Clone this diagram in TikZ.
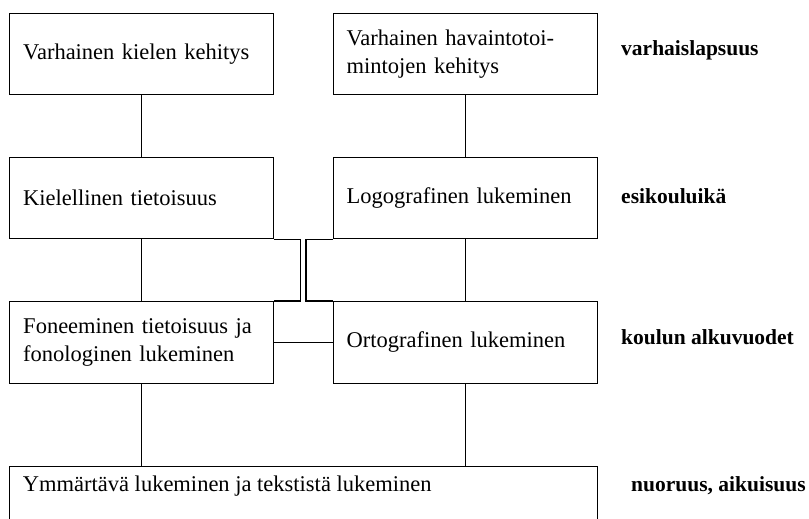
\documentclass[tikz,border=0pt]{standalone}
\usepackage{fontspec}
\setmainfont{Liberation Serif}
\begin{document}
\begin{tikzpicture}[x=1pt,y=-1pt,
  box/.style={draw, line width=1.1pt, inner xsep=13.4pt, inner ysep=0pt,
    minimum width=264pt, text width=237.2pt, align=left,
    minimum height=81.5pt, anchor=north west,
    font=\fontsize{22.5}{28}\selectfont},
  conn/.style={line width=1.1pt},
  agelabel/.style={anchor=base west, inner sep=0pt,
    font=\fontsize{21.5}{26}\selectfont\bfseries}]
\useasboundingbox (0,0) rectangle (809,519);
\clip (0,0) rectangle (809,519);
% boxes
\node[box] (A) at (9.3,12.7) {Varhainen kielen kehitys};
\node[box] (B) at (332.7,12.7) {Varhainen havaintotoi-\\mintojen kehitys};
\node[box] (K) at (9.3,156.7) {Kielellinen tietoisuus};
\node[box] (L) at (332.7,156.7) {Logografinen lukeminen};
\node[box] (F) at (9.3,301) {Foneeminen tietoisuus ja\\fonologinen lukeminen};
\node[box] (O) at (332.7,301) {Ortografinen lukeminen};
\node[box, minimum width=587.4pt, minimum height=80pt] (Y) at (9.3,466) {};
\node[anchor=base west, inner sep=0pt, font=\fontsize{22.5}{28}\selectfont] (Yt) at (22.7,491) {Ymmärtävä lukeminen ja tekstistä lukeminen};
% age labels
\node[agelabel] (l1) at (621,56) {varhaislapsuus};
\node[agelabel] (l2) at (621,203) {esikouluikä};
\node[agelabel] (l3) at (621,344) {koulun alkuvuodet};
\node[agelabel] (l4) at (631,491) {nuoruus, aikuisuus};
% connectors
\draw[conn] (A.south) -- (K.north);
\draw[conn] (B.south) -- (L.north);
\draw[conn] (K.south) -- (F.north);
\draw[conn] (L.south) -- (O.north);
\draw[conn] (K.south east) -- ++(26.5,0) |- (F.north east);
\draw[conn] (L.south west) -- ++(-26.7,0) |- (O.north west);
\draw[conn] (F.east) -- (O.west);
\draw[conn] (F.south) -- (F.south |- Y.north);
\draw[conn] (O.south) -- (O.south |- Y.north);
\end{tikzpicture}
\end{document}
